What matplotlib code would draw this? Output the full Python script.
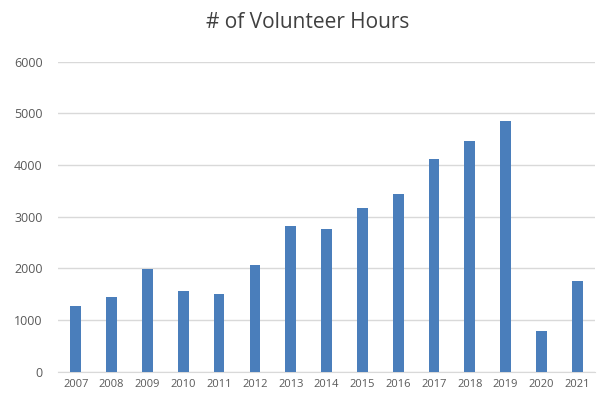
import matplotlib
matplotlib.use('Agg')
import matplotlib.pyplot as plt

# Volunteer hours per year
years = ['2007', '2008', '2009', '2010', '2011', '2012', '2013', '2014',
         '2015', '2016', '2017', '2018', '2019', '2020', '2021']
hours = [1280, 1450, 1980, 1570, 1500, 2060, 2820, 2760,
         3170, 3450, 4120, 4470, 4850, 790, 1760]
yticks = [0, 1000, 2000, 3000, 4000, 5000, 6000]

plt.rcParams['font.family'] = ['Open Sans', 'DejaVu Sans']

fig = plt.figure(figsize=(6.03, 4.04), dpi=100)
ax = fig.add_axes([0.096, 0.08, 0.891, 0.767])

x = range(len(years))
ax.bar(x, hours, width=0.3, color='#4a7ebb', zorder=3)

ax.set_xlim(-0.5, len(years) - 0.5)
ax.set_ylim(0, 6000)
ax.set_xticks(list(x))
ax.set_xticklabels(years, fontsize=8, color='#595959')
ax.set_yticks(yticks)
ax.set_yticklabels([str(t) for t in yticks], fontsize=9, color='#595959')
ax.tick_params(length=0)
ax.tick_params(axis='y', pad=11)
ax.tick_params(axis='x', pad=5)

ax.yaxis.grid(True, color='#d9d9d9', linewidth=1, zorder=0)
for s in ['top', 'right', 'left']:
    ax.spines[s].set_visible(False)
ax.spines['bottom'].set_color('#d9d9d9')

fig.text(0.51, 0.945, '# of Volunteer Hours', ha='center', va='center',
         fontsize=15, color='#404040')

fig.savefig('out.png', dpi=100)
